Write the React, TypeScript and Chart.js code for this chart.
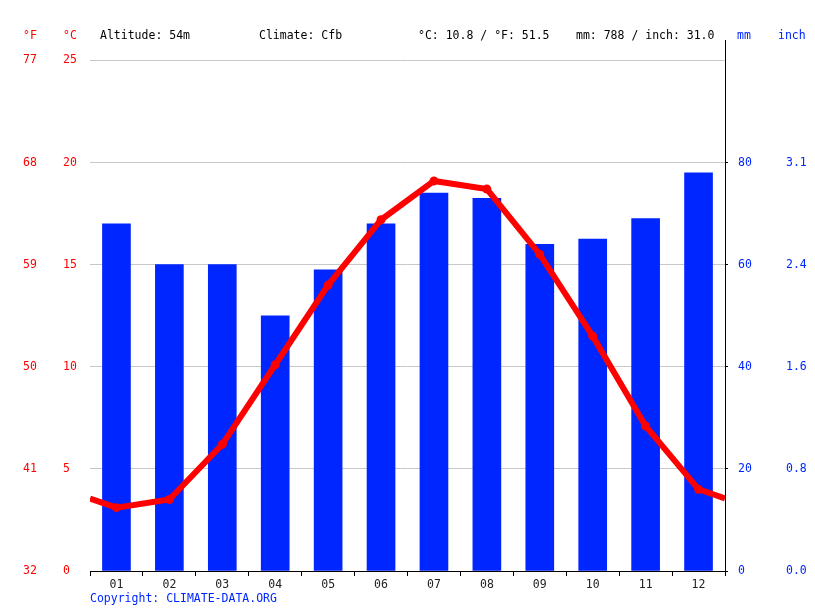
import { useEffect, useRef } from 'react'
import { Chart, registerables } from 'chart.js'

Chart.register(...registerables)

const months = ['01', '02', '03', '04', '05', '06', '07', '08', '09', '10', '11', '12']
const tempC = [3.1, 3.5, 6.2, 10.1, 14.0, 17.2, 19.1, 18.7, 15.5, 11.5, 7.1, 4.0]
const rainMm = [68, 60, 60, 50, 59, 68, 74, 73, 64, 65, 69, 78]
const cTicks = [0, 5, 10, 15, 20, 25]
const mmTicks = [0, 20, 40, 60, 80]
const altitude = '54m'
const climate = 'Cfb'

const RED = '#ff0000'
const BLUE = '#0026ff'
const FONT = "'DejaVu Sans Mono', monospace"

export default function App() {
  const canvasRef = useRef<HTMLCanvasElement | null>(null)
  const chartRef = useRef<Chart | null>(null)

  useEffect(() => {
    if (!canvasRef.current) return
    const ctx = canvasRef.current.getContext('2d')!

    const meanC = tempC.reduce((a, b) => a + b, 0) / tempC.length
    const meanF = meanC * 9 / 5 + 32
    const totalMm = rainMm.reduce((a, b) => a + b, 0)
    const totalIn = totalMm / 25.4
    const wrap = (tempC[0] + tempC[11]) / 2

    const linePts = [
      { x: 0, y: wrap },
      ...tempC.map((v, i) => ({ x: i + 0.5, y: v })),
      { x: 12, y: wrap },
    ]
    const barPts = rainMm.map((v, i) => ({ x: i + 0.5, y: v }))

    const header = {
      id: 'header',
      afterDraw(chart: any) {
        const c = chart.ctx
        const s = chart.scales
        c.save()
        c.font = `11.5px ${FONT}`
        c.textBaseline = 'middle'
        c.textAlign = 'left'
        c.fillStyle = RED
        c.fillText('°F', s.yF.left, 36)
        c.fillText('°C', s.y.left, 36)
        c.fillStyle = BLUE
        c.fillText('mm', 737, 36)
        c.fillText('inch', 778, 36)
        c.fillStyle = '#000'
        c.fillText(`Altitude: ${altitude}`, 100, 36)
        c.fillText(`Climate: ${climate}`, 259, 36)
        c.fillText(`°C: ${meanC.toFixed(1)} / °F: ${meanF.toFixed(1)}`, 418, 36)
        c.fillText(`mm: ${totalMm} / inch: ${totalIn.toFixed(1)}`, 576, 36)
        c.fillStyle = BLUE
        c.fillText('Copyright: CLIMATE-DATA.ORG', chart.chartArea.left, 599)
        c.restore()
      },
    }

    const tickFont = { family: FONT, size: 11.5 }

    chartRef.current = new Chart(ctx, {
      type: 'bar',
      data: {
        datasets: [
          {
            type: 'line',
            data: linePts,
            xAxisID: 'x',
            yAxisID: 'y',
            borderColor: RED,
            backgroundColor: RED,
            borderWidth: 6,
            pointRadius: (c: any) => (c.dataIndex === 0 || c.dataIndex === linePts.length - 1 ? 0 : 4.5),
            pointBorderWidth: 0,
            tension: 0,
            order: 0,
          } as any,
          {
            type: 'bar',
            data: barPts,
            xAxisID: 'x',
            yAxisID: 'mm',
            backgroundColor: BLUE,
            borderWidth: 0,
            barThickness: 28,
            order: 1,
          },
        ],
      },
      options: {
        responsive: false,
        animation: false,
        layout: { padding: { left: 23, top: 40, right: 0, bottom: 0 } },
        plugins: { legend: { display: false }, tooltip: { enabled: false } },
        scales: {
          x: {
            type: 'linear',
            min: 0,
            max: 12,
            offset: false,
            afterFit: (s: any) => { s.height = 40 },
            afterBuildTicks: (s: any) => { s.ticks = [...months.map((_, i) => ({ value: i })), { value: 12 }] },
            ticks: {
              autoSkip: false,
              maxRotation: 0,
              padding: 2,
              labelOffset: 26.46,
              color: '#222',
              font: tickFont,
              callback: (v: any) => months[v] ?? '',
            },
            grid: { offset: false, drawOnChartArea: false, drawTicks: true, tickLength: 5, color: '#000' },
            border: { display: true, color: '#000' },
          },
          yF: {
            type: 'linear',
            position: 'left',
            weight: 1,
            min: 0,
            max: 26,
            afterFit: (s: any) => { s.width = 40 },
            afterBuildTicks: (s: any) => { s.ticks = cTicks.map((value) => ({ value })) },
            ticks: {
              crossAlign: 'far',
              color: RED,
              font: tickFont,
              callback: (v: any) => String(Math.round(v * 9 / 5 + 32)),
            },
            grid: { display: false },
            border: { display: false },
          },
          y: {
            type: 'linear',
            position: 'left',
            weight: 0,
            min: 0,
            max: 26,
            afterFit: (s: any) => { s.width = 27 },
            afterBuildTicks: (s: any) => { s.ticks = cTicks.map((value) => ({ value })) },
            ticks: { crossAlign: 'far', color: RED, font: tickFont },
            grid: {
              drawTicks: false,
              color: (c: any) => (c.tick && c.tick.value === 0 ? 'rgba(0,0,0,0)' : '#c8c8c8'),
            },
            border: { display: false },
          },
          mm: {
            type: 'linear',
            position: 'right',
            weight: 0,
            min: 0,
            max: 104,
            afterFit: (s: any) => { s.width = 45 },
            afterBuildTicks: (s: any) => { s.ticks = mmTicks.map((value) => ({ value })) },
            ticks: { crossAlign: 'near', padding: 10, color: BLUE, font: tickFont },
            grid: { drawOnChartArea: false, drawTicks: true, tickLength: 3, color: '#000' },
            border: { display: true, color: '#000' },
          },
          inch: {
            type: 'linear',
            position: 'right',
            weight: 1,
            min: 0,
            max: 104,
            afterFit: (s: any) => { s.width = 45 },
            afterBuildTicks: (s: any) => { s.ticks = mmTicks.map((value) => ({ value })) },
            ticks: {
              crossAlign: 'near',
              padding: 8,
              color: BLUE,
              font: tickFont,
              callback: (v: any) => (v / 25.4).toFixed(1),
            },
            grid: { display: false },
            border: { display: false },
          },
        },
      } as any,
      plugins: [header],
    })

    return () => chartRef.current?.destroy()
  }, [])

  return (
    <div style={{ position: 'fixed', left: 0, top: 0, width: 815, height: 611, background: '#fff' }}>
      <canvas ref={canvasRef} width={815} height={611} style={{ width: 815, height: 611 }} />
    </div>
  )
}
